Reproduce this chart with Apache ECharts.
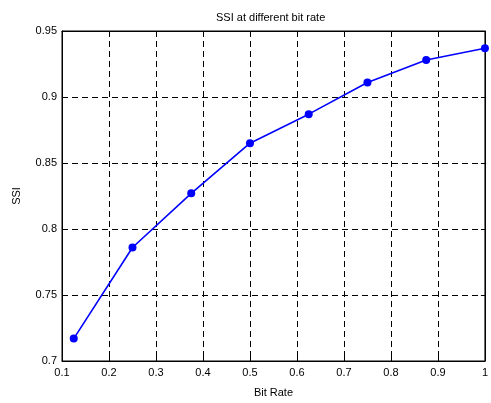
<!DOCTYPE html>
<html>
<head>
<meta charset="utf-8">
<script src="https://cdn.jsdelivr.net/npm/echarts@6/dist/echarts.min.js"></script>
<style>
	html, body { margin:0; padding:0; background:#fff; }
	#chart { width:491px; height:403px; }
</style>
</head>
<body>
<div id="chart"></div>
<script>
const bit_rates = [0.125, 0.25, 0.375, 0.5, 0.625, 0.75, 0.875, 1.0];
const ssi_values = [0.717, 0.786, 0.827, 0.865, 0.887, 0.911, 0.928, 0.937];
const title_text = 'SSI at different bit rate';
const x_name = 'Bit Rate';
const y_name = 'SSI';

const FONT = '"Liberation Sans", Arial, sans-serif';
const trim_num = v => String(parseFloat(v.toFixed(2)));

let dash_line = {
	show: true,
	lineStyle: { color:'#000', width:1, type:[6,4] }
};

let chart = echarts.init(document.getElementById('chart'));
chart.setOption({
	animation: false,
	backgroundColor: '#fff',
	title: {
		text: title_text,
		left: 211,
		top: 7,
		textStyle: { fontFamily:FONT, fontSize:11, fontWeight:'normal', color:'#000' }
	},
	grid: {
		left: 62, right: 1, top: 31, bottom: 34,
		show: true, borderColor: '#000', borderWidth: 1, backgroundColor: '#fff'
	},
	xAxis: [
		{
			type: 'value', min: 0.1, max: 1, interval: 0.1,
			name: x_name, nameLocation: 'middle', nameGap: 26,
			nameTextStyle: { fontFamily:FONT, fontSize:11, color:'#000' },
			axisLine: { show:true, lineStyle:{ color:'#000' } },
			axisTick: { show:true, inside:true, length:4, lineStyle:{ color:'#000' } },
			axisLabel: { fontFamily:FONT, fontSize:11, color:'#000', margin:6, formatter: trim_num },
			splitLine: dash_line
		},
		{
			type: 'value', position: 'top', min: 0.1, max: 1, interval: 0.1,
			axisLine: { show:true, lineStyle:{ color:'#000' } },
			axisTick: { show:true, inside:true, length:4, lineStyle:{ color:'#000' } },
			axisLabel: { show:false },
			splitLine: { show:false }
		}
	],
	yAxis: [
		{
			type: 'value', min: 0.7, max: 0.95, interval: 0.05,
			name: y_name, nameLocation: 'middle', nameGap: 40,
			nameTextStyle: { fontFamily:FONT, fontSize:11, color:'#000' },
			axisLine: { show:true, lineStyle:{ color:'#000' } },
			axisTick: { show:true, inside:true, length:4, lineStyle:{ color:'#000' } },
			axisLabel: { fontFamily:FONT, fontSize:11, color:'#000', margin:5, formatter: trim_num },
			splitLine: dash_line
		},
		{
			type: 'value', position: 'right', min: 0.7, max: 0.95, interval: 0.05,
			axisLine: { show:true, lineStyle:{ color:'#000' } },
			axisTick: { show:true, inside:true, length:4, lineStyle:{ color:'#000' } },
			axisLabel: { show:false },
			splitLine: { show:false }
		}
	],
	series: [{
		type: 'line',
		data: bit_rates.map((x, i) => [x, ssi_values[i]]),
		symbol: 'circle',
		symbolSize: 8,
		clip: false,
		lineStyle: { color:'#0000ff', width:1.6 },
		itemStyle: { color:'#0000ff' }
	}]
});
</script>
</body>
</html>
